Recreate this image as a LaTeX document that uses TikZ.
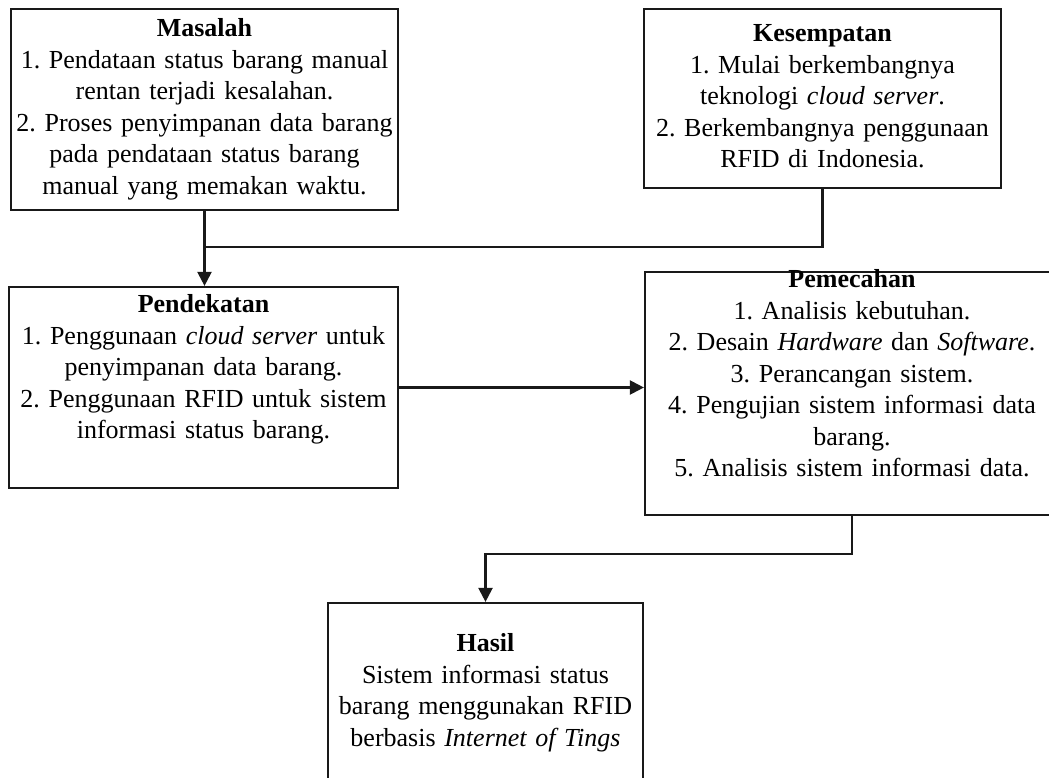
\documentclass[tikz,border=0pt]{standalone}
\usepackage{fontspec}
\setmainfont{Liberation Serif}
\usepackage{xcolor}
\usetikzlibrary{positioning, arrows.meta, calc}
\definecolor{tinta}{RGB}{25,25,25}
\frenchspacing

\begin{document}
\begin{tikzpicture}[
  x=1pt, y=1pt,
  kotak/.style={draw=tinta, line width=2.2pt, inner sep=0pt},
  isi/.style={font=\fontsize{26}{31.5}\selectfont, text=black, align=center,
              text width=#1, inner sep=0pt, anchor=base},
  isi/.default=386pt,
  garis/.style={draw=tinta, line width=2.2pt},
  panah/.style={garis, -{Triangle[length=14pt, width=14pt]}}]

  \useasboundingbox (0,0) rectangle (1049,-778);
  \clip (0,0) rectangle (1049,-778);

  \node[kotak, minimum width=387, minimum height=201] (masalah)    at (204.5, -109.5) {};
  \node[kotak, minimum width=357, minimum height=179] (kesempatan) at (822.5,  -98.5) {};
  \node[kotak, minimum width=389, minimum height=201] (pendekatan) at (203.5, -387.5) {};
  \node[kotak, minimum width=414, minimum height=243] (pemecahan)  at (852,   -393.5) {};
  \node[kotak, minimum width=315, minimum height=200] (hasil)      at (485.5, -703)   {};

  \node[isi] (tmasalah) at ([yshift=-29pt]masalah.north)
    {\textbf{Masalah}\\
     1. Pendataan status barang manual\\
     rentan terjadi kesalahan.\\
     2. Proses penyimpanan data barang\\
     pada pendataan status barang\\
     manual yang memakan waktu.};
  \node[isi=356pt] (tkesempatan) at ([yshift=-34pt]kesempatan.north)
    {\textbf{Kesempatan}\\
     1. Mulai berkembangnya\\
     teknologi \textit{cloud server}.\\
     2. Berkembangnya penggunaan\\
     RFID di Indonesia.};
  \node[isi=388pt] (tpendekatan) at ([yshift=-27pt]pendekatan.north)
    {\textbf{Pendekatan}\\
     1. Penggunaan \textit{cloud server} untuk\\
     penyimpanan data barang.\\
     2. Penggunaan RFID untuk sistem\\
     informasi status barang.};
  \node[isi=412pt] (tpemecahan) at ([yshift=-17pt]pemecahan.north)
    {\textbf{Pemecahan}\\
     1. Analisis kebutuhan.\\
     2. Desain \textit{Hardware} dan \textit{Software}.\\
     3. Perancangan sistem.\\
     4. Pengujian sistem informasi data\\
     barang.\\
     5. Analisis sistem informasi data.};
  \node[isi=314pt] (thasil) at ([yshift=-50pt]hasil.north)
    {\textbf{Hasil}\\
     Sistem informasi status\\
     barang menggunakan RFID\\
     berbasis \textit{Internet of Tings}};

  \coordinate (temu) at (204.5, -247);
  \draw[garis] (kesempatan.south) |- (temu);
  \draw[panah] (masalah.south) -- (masalah.south |- pendekatan.north);
  \draw[panah] (pendekatan.east) -- (pendekatan.east -| pemecahan.west);
  \draw[panah] (pemecahan.south) -- ++(0,-38) -| (hasil.north);
\end{tikzpicture}
\end{document}
